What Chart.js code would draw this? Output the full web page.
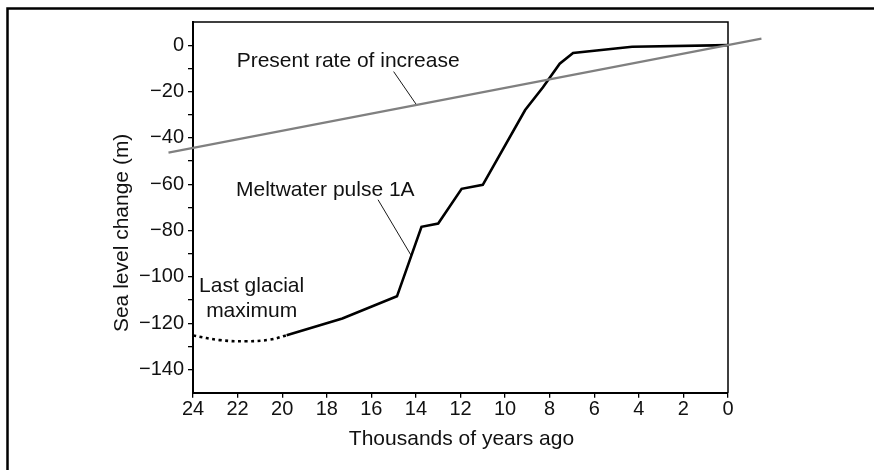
<!DOCTYPE html>
<html><head><meta charset="utf-8">
<script src="https://cdn.jsdelivr.net/npm/chart.js@4.4.1/dist/chart.umd.min.js"></script>
<style>html,body{margin:0;padding:0;background:#fff;}canvas{display:block;}</style>
</head><body>
<canvas id="c" width="874" height="470"></canvas>
<script>
// ---- data (thousands of years ago, sea level change in m) ----
const years      = [19.8, 17.3, 14.85, 13.75, 13.0, 11.95, 11.0, 9.1, 8.3, 7.55, 6.95, 4.3, 0];
const seaLevel   = [-125.2, -118, -108.4, -78.4, -77, -62, -60.3, -28, -18.2, -8, -3.4, -0.7, 0];
const lgmYears   = [24, 22.8, 21.6, 20.55, 19.8];
const lgmLevel   = [-125.3, -127.3, -127.8, -127.1, -125.2];
const rateYears  = [25.1, -1.5];
const rateLevel  = [-46.4, 2.8];
const rateCalloutYears = [15.0, 13.97];
const rateCalloutLevel = [-11.4, -25.8];
const pulseCalloutYears = [15.7, 14.23];
const pulseCalloutLevel = [-66.7, -90.5];
const xTickValues = [24, 22, 20, 18, 16, 14, 12, 10, 8, 6, 4, 2, 0];
const yTickValues = [0, -20, -40, -60, -80, -100, -120, -140];

const FONT = "'Liberation Sans', Arial, Helvetica, sans-serif";
const pts = (xs, ys) => xs.map((x, i) => ({x: x, y: ys[i]}));

const labels = [
  {text: 'Present rate of increase', x: 22.04, y: -9.6, align: 'left'},
  {text: 'Meltwater pulse 1A', x: 22.07, y: -65.2, align: 'left'},
  {text: 'Last glacial', x: 21.37, y: -106.6, align: 'center'},
  {text: 'maximum', x: 21.37, y: -117.3, align: 'center'}
];

const decor = {
  id: 'decor',
  beforeDraw(chart) {
    const ctx = chart.ctx;
    ctx.save();
    ctx.fillStyle = '#fff';
    ctx.fillRect(0, 0, chart.width, chart.height);
    ctx.restore();
  },
  beforeDatasetsDraw(chart) {
    const a = chart.chartArea, ctx = chart.ctx;
    ctx.save();
    ctx.strokeStyle = '#000';
    ctx.lineWidth = 1.5;
    ctx.beginPath();
    ctx.moveTo(a.left, a.top);
    ctx.lineTo(a.right, a.top);
    ctx.lineTo(a.right, a.bottom);
    ctx.stroke();
    ctx.restore();
  },
  afterDraw(chart) {
    const ctx = chart.ctx, a = chart.chartArea;
    const xs = chart.scales.x, ys = chart.scales.y;
    ctx.save();
    // outer frame
    ctx.strokeStyle = '#000';
    ctx.lineWidth = 2.5;
    ctx.beginPath();
    ctx.moveTo(7.5, 470);
    ctx.lineTo(7.5, 8.5);
    ctx.lineTo(874, 8.5);
    ctx.stroke();
    // annotation texts
    ctx.fillStyle = '#111';
    ctx.font = '21px ' + FONT;
    ctx.textBaseline = 'alphabetic';
    labels.forEach(l => {
      ctx.textAlign = l.align;
      ctx.fillText(l.text, xs.getPixelForValue(l.x), ys.getPixelForValue(l.y));
    });
    // axis titles
    ctx.textAlign = 'center';
    ctx.fillText('Thousands of years ago', (a.left + a.right) / 2 + 1, a.bottom + 52.5);
    ctx.translate(a.left - 64.7, (a.top + a.bottom) / 2 + 25.5);
    ctx.rotate(-Math.PI / 2);
    ctx.fillText('Sea level change (m)', 0, 0);
    ctx.restore();
  }
};

const fmt = v => (v < 0 ? '\u2212' + Math.abs(v) : String(v));

new Chart(document.getElementById('c'), {
  type: 'line',
  data: {
    datasets: [
      {data: pts(rateYears, rateLevel), borderColor: '#808080', borderWidth: 2.2, pointRadius: 0, clip: false, order: 0},
      {data: pts(rateCalloutYears, rateCalloutLevel), borderColor: '#000', borderWidth: 0.9, pointRadius: 0, order: 1},
      {data: pts(pulseCalloutYears, pulseCalloutLevel), borderColor: '#000', borderWidth: 0.9, pointRadius: 0, order: 1},
      {data: pts(years, seaLevel), borderColor: '#000', borderWidth: 2.6, pointRadius: 0, order: 2, borderJoinStyle: 'miter'},
      {data: pts(lgmYears, lgmLevel), borderColor: '#000', borderWidth: 2.6, borderDash: [3, 3.5], pointRadius: 0, tension: 0.4, order: 2}
    ]
  },
  options: {
    responsive: false,
    animation: false,
    events: [],
    layout: {padding: {left: 0, top: 22, right: 146, bottom: 0}},
    plugins: {legend: {display: false}, tooltip: {enabled: false}},
    scales: {
      x: {
        type: 'linear', min: 0, max: 24, reverse: true,
        afterBuildTicks: s => { s.ticks = xTickValues.map(v => ({value: v})); },
        afterFit: s => { s.height = 77.3; },
        grid: {display: true, drawOnChartArea: false, drawTicks: true, tickLength: 5, color: '#000', lineWidth: 1.3},
        border: {display: true, color: '#000', width: 2},
        ticks: {color: '#111', font: {family: FONT, size: 20}, padding: 0, maxRotation: 0, autoSkip: false, callback: v => String(v)}
      },
      y: {
        type: 'linear', min: -150, max: 10,
        afterBuildTicks: s => {
          const t = [];
          for (let v = 0; v >= -140; v -= 10) t.push({value: v});
          s.ticks = t;
        },
        afterFit: s => { s.width = 193; },
        grid: {display: true, drawOnChartArea: false, drawTicks: true, tickLength: 5, color: '#000', lineWidth: 1.3},
        border: {display: true, color: '#000', width: 2},
        ticks: {color: '#111', font: {family: FONT, size: 20}, padding: 4, autoSkip: false,
          callback: v => (yTickValues.includes(v) ? fmt(v) : '')}
      }
    }
  },
  plugins: [decor]
});
</script>
</body></html>
